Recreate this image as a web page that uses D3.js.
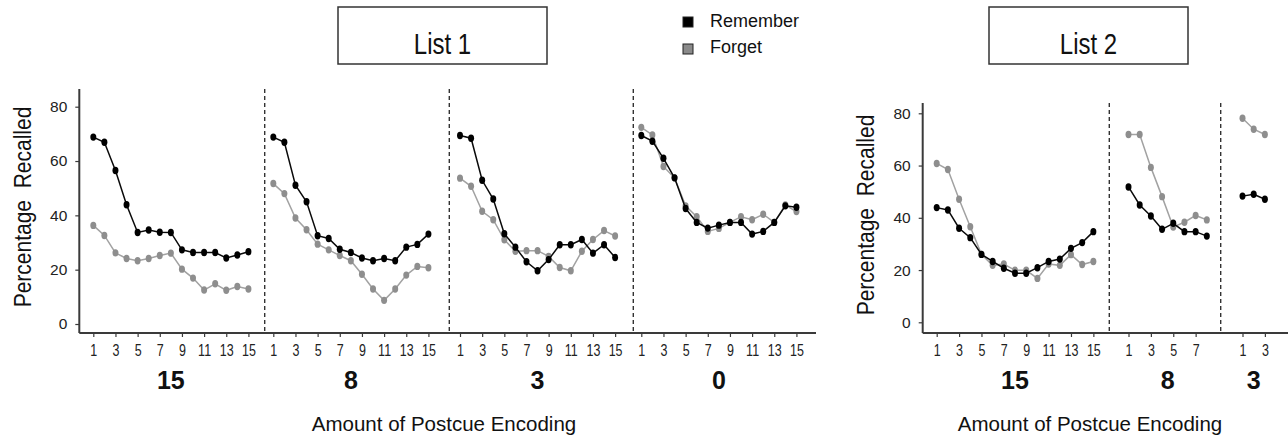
<!DOCTYPE html>
<html>
<head>
<meta charset="utf-8">
<script src="https://cdn.jsdelivr.net/npm/d3@7"></script>
<style>
  body { margin: 0; background: #fff; }
  svg { display: block; font-family: "Liberation Sans", Arial, sans-serif; }
</style>
</head>
<body>
<svg id="chart" width="1288" height="436"></svg>
<script>
// ---- Data: percentage recalled by serial position ----
const seriesNames = ["Remember", "Forget"];
const yTicks = [0, 20, 40, 60, 80];
const xTickValues = [1, 3, 5, 7, 9, 11, 13, 15];

// List 1: four postcue-encoding conditions, 15 positions each
const list1Groups = ["15", "8", "3", "0"];
const list1Remember = [
  [68.8, 66.9, 56.5, 43.9, 33.7, 34.6, 33.8, 33.7, 27.3, 26.3, 26.3, 26.3, 24.3, 25.4, 26.6],
  [68.8, 66.9, 51.1, 45.0, 32.5, 31.5, 27.5, 26.3, 24.3, 23.3, 24.1, 23.3, 28.3, 29.3, 33.1],
  [69.4, 68.4, 52.9, 46.0, 33.2, 28.3, 22.9, 19.6, 23.7, 29.2, 29.2, 31.1, 26.1, 29.2, 24.5],
  [69.4, 67.3, 61.0, 53.8, 42.5, 37.4, 35.3, 36.4, 37.4, 37.4, 33.1, 34.1, 37.4, 43.5, 43.0]
];
const list1Forget = [
  [36.3, 32.6, 26.2, 24.1, 23.3, 24.1, 25.2, 26.1, 20.2, 16.9, 12.5, 14.8, 12.4, 13.8, 12.9],
  [51.7, 48.0, 39.0, 34.7, 29.4, 27.3, 25.2, 23.3, 18.3, 12.9, 8.7, 12.9, 18.0, 21.2, 20.7],
  [53.7, 50.7, 41.5, 38.4, 31.0, 26.8, 27.0, 27.0, 24.9, 20.8, 19.6, 26.8, 31.1, 34.4, 32.4],
  [72.4, 69.6, 58.0, 53.8, 43.5, 39.5, 34.1, 35.2, 37.4, 39.5, 38.4, 40.4, 37.4, 43.8, 41.4]
];

// List 2: three conditions with 15, 8 and 3 positions
const list2Groups = ["15", "8", "3"];
const list2Remember = [
  [43.9, 43.0, 36.0, 32.4, 26.0, 23.3, 20.7, 18.8, 18.8, 20.9, 23.3, 24.2, 28.3, 30.5, 34.7],
  [51.8, 44.9, 40.7, 35.6, 37.9, 34.7, 34.7, 33.0],
  [48.3, 49.0, 47.1]
];
const list2Forget = [
  [60.8, 58.5, 47.1, 36.6, 26.0, 21.8, 22.3, 19.9, 19.9, 16.8, 22.3, 21.8, 25.9, 22.1, 23.3],
  [71.9, 71.9, 59.3, 48.1, 36.5, 38.3, 40.9, 39.2],
  [78.1, 73.9, 71.9]
];

// ---- Styling ----
const colors = { Remember: "#0a0a0a", Forget: "#a2a2a2" };
const markerFill = { Remember: "#000", Forget: "#8e8e8e" };
const axisColor = "#3a3a3a";

const svg = d3.select("#chart");

// Draws one list: y axis, panels separated by dashed lines, two series per panel
function drawList(cfg) {
  const g = svg.append("g");
  const y = d3.scaleLinear().domain([0, 80]).range(cfg.yRange);

  // y axis
  const yAxis = g.append("g")
    .attr("transform", `translate(${cfg.axisX},0)`)
    .call(d3.axisLeft(y).tickValues(yTicks).tickSize(4).tickPadding(8));
  yAxis.select(".domain").remove();
  yAxis.selectAll(".tick line").attr("stroke", axisColor).attr("stroke-width", 1.2);
  yAxis.selectAll(".tick text")
    .attr("font-size", 15.5).attr("fill", "#222")
    .attr("font-family", "Liberation Sans, Arial, sans-serif");
  g.append("line")
    .attr("x1", cfg.axisX).attr("x2", cfg.axisX)
    .attr("y1", cfg.axisTop).attr("y2", cfg.baseY)
    .attr("stroke", axisColor).attr("stroke-width", 2);

  // x axis baseline
  g.append("line")
    .attr("x1", cfg.axisX).attr("x2", cfg.axisEnd)
    .attr("y1", cfg.baseY).attr("y2", cfg.baseY)
    .attr("stroke", axisColor).attr("stroke-width", 2.2);

  // dashed panel separators
  cfg.dividers.forEach(dx => {
    g.append("line")
      .attr("x1", dx).attr("x2", dx)
      .attr("y1", cfg.axisTop).attr("y2", cfg.baseY)
      .attr("stroke", "#333").attr("stroke-width", 1.4)
      .attr("stroke-dasharray", "4,3");
  });

  // y axis title (glyphs drawn slightly tall)
  g.append("text")
    .attr("transform", `translate(${cfg.yTitleX},${cfg.yTitleY}) rotate(-90) scale(1,1.15)`)
    .attr("text-anchor", "middle")
    .attr("font-size", 21).attr("fill", "#111")
    .attr("xml:space", "preserve")
    .text("Percentage  Recalled");

  cfg.groups.forEach((name, p) => {
    const rem = cfg.remember[p];
    const fgt = cfg.forget[p];
    const n = rem.length;
    const x1 = cfg.panelStart[p];
    const x = d3.scaleLinear().domain([1, 15]).range([x1, x1 + 14 * cfg.unit]);

    // ticks and position labels
    const xa = g.append("g")
      .attr("transform", `translate(0,${cfg.baseY})`)
      .call(d3.axisBottom(x).tickValues(xTickValues.filter(v => v <= n)).tickSize(4).tickPadding(5));
    xa.select(".domain").remove();
    xa.selectAll(".tick line").attr("stroke", axisColor).attr("stroke-width", 1.2);
    xa.selectAll(".tick text")
      .attr("font-size", 12.5).attr("fill", "#222")
      .attr("font-family", "Liberation Sans, Arial, sans-serif")
      .attr("transform", "scale(1,1.3)");

    // condition label
    g.append("text")
      .attr("x", (x(1) + x(Math.min(n, 15))) / 2)
      .attr("y", cfg.groupLabelY)
      .attr("text-anchor", "middle")
      .attr("font-size", 25).attr("font-weight", "bold").attr("fill", "#111")
      .text(name);

    const line = d3.line().x((d, i) => x(i + 1)).y(d => y(d));
    [["Forget", fgt], ["Remember", rem]].forEach(([s, vals]) => {
      g.append("path")
        .datum(vals)
        .attr("d", line)
        .attr("fill", "none")
        .attr("stroke", colors[s])
        .attr("stroke-width", 1.5);
      g.selectAll(null)
        .data(vals)
        .enter().append("ellipse")
        .attr("cx", (d, i) => x(i + 1))
        .attr("cy", d => y(d))
        .attr("rx", 3).attr("ry", 3.7)
        .attr("fill", markerFill[s]);
    });
  });

  // x axis title
  g.append("text")
    .attr("x", cfg.xTitleX).attr("y", 431)
    .attr("text-anchor", "middle")
    .attr("font-size", 20.5).attr("fill", "#111")
    .text("Amount of Postcue Encoding");

  // list title box
  g.append("rect")
    .attr("x", cfg.box[0]).attr("y", 7)
    .attr("width", cfg.box[1]).attr("height", 57)
    .attr("fill", "#fff").attr("stroke", "#333").attr("stroke-width", 1.5);
  g.append("text")
    .attr("x", cfg.box[0] + cfg.box[1] / 2).attr("y", 54)
    .attr("text-anchor", "middle")
    .attr("font-size", 24).attr("fill", "#111")
    .attr("transform", `translate(0,${54 - 54 * 1.25}) scale(1,1.25)`)
    .text(cfg.title);
}

drawList({
  title: "List 1",
  box: [338, 209],
  groups: list1Groups,
  remember: list1Remember,
  forget: list1Forget,
  yRange: [324, 106.7],
  axisX: 79.3, axisTop: 89, axisEnd: 816, baseY: 333,
  panelStart: [93.3, 273.3, 460, 641.3],
  unit: 11.08,
  dividers: [264.7, 449.3, 633.3],
  yTitleX: 31, yTitleY: 207,
  groupLabelY: 389,
  xTitleX: 444
});

drawList({
  title: "List 2",
  box: [989, 199],
  groups: list2Groups,
  remember: list2Remember,
  forget: list2Forget,
  yRange: [322.3, 113.3],
  axisX: 922.7, axisTop: 103, axisEnd: 1288, baseY: 333,
  panelStart: [936.7, 1128.5, 1242.5],
  unit: 11.19,
  dividers: [1109.3, 1220.7],
  yTitleX: 874, yTitleY: 215,
  groupLabelY: 389,
  xTitleX: 1090
});

// legend
const legend = svg.append("g").attr("transform", "translate(683,0)");
seriesNames.forEach((s, i) => {
  legend.append("rect")
    .attr("x", 0).attr("y", 17 + i * 27)
    .attr("width", 10).attr("height", 10)
    .attr("fill", s === "Remember" ? "#000" : "#8a8a8a")
    .attr("stroke", "#222").attr("stroke-width", 1);
  legend.append("text")
    .attr("x", 27).attr("y", 27 + i * 26)
    .attr("font-size", 18).attr("fill", "#111")
    .text(s);
});
</script>
</body>
</html>
